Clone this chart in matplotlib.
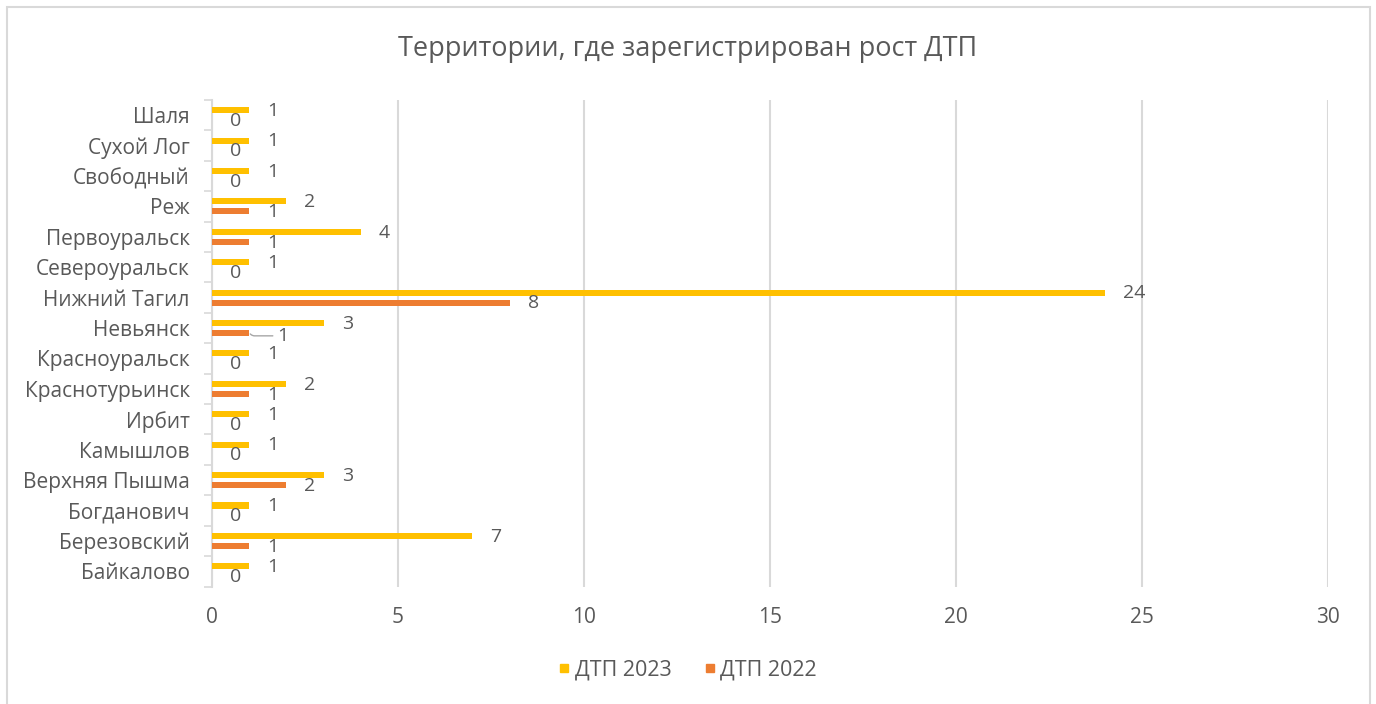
import matplotlib
matplotlib.use('Agg')
import matplotlib.pyplot as plt
from matplotlib.lines import Line2D
from matplotlib.patches import Rectangle
import numpy as np

categories = ['Байкалово', 'Березовский', 'Богданович', 'Верхняя Пышма', 'Камышлов',
              'Ирбит', 'Краснотурьинск', 'Красноуральск', 'Невьянск', 'Нижний Тагил',
              'Североуральск', 'Первоуральск', 'Реж', 'Свободный', 'Сухой Лог', 'Шаля']
dtp_2023 = [1, 7, 1, 3, 1, 1, 2, 1, 3, 24, 1, 4, 2, 1, 1, 1]
dtp_2022 = [0, 1, 0, 2, 0, 0, 1, 0, 1, 8, 0, 1, 1, 0, 0, 0]
xticks = [0, 5, 10, 15, 20, 25, 30]
title = 'Территории, где зарегистрирован рост ДТП'
series_names = ['ДТП 2023', 'ДТП 2022']

C23 = '#FFC000'
C22 = '#ED7D31'
TXT = '#595959'
GRID = '#D9D9D9'
FS = 15
FS_LAB = 14

plt.rcParams['font.family'] = ['Open Sans', 'DejaVu Sans']

W, H = 1376, 704
fig = plt.figure(figsize=(W / 100, H / 100), dpi=100)
fig.patch.set_facecolor('white')
fig.patches.append(Rectangle((7 / W, -0.05), (1370 - 7) / W, 1 + 0.05 - 7 / H,
                             transform=fig.transFigure, fill=False,
                             edgecolor=GRID, lw=1.5))

ax = fig.add_axes([212 / W, (H - 586.5) / H, (1328 - 212) / W, (586.5 - 100) / H])
y = np.arange(len(categories))
bh = 0.2
off = 0.165
ax.barh(y + off, dtp_2023, height=bh, color=C23, zorder=3)
ax.barh(y - off, dtp_2022, height=bh, color=C22, zorder=3)

ax.set_xlim(xticks[0], xticks[-1])
ax.set_ylim(-0.5, len(categories) - 0.5)
ax.set_xticks(xticks)
ax.set_xticklabels([str(t) for t in xticks])
ax.set_yticks(y)
ax.set_yticklabels(categories)
ax.set_yticks(np.arange(len(categories) + 1) - 0.5, minor=True)

ax.tick_params(axis='x', length=0, pad=15, labelsize=FS, labelcolor=TXT)
ax.tick_params(axis='y', which='major', length=0, pad=16, labelsize=FS, labelcolor=TXT)
ax.tick_params(axis='y', which='minor', length=5.8, width=1.2, color=GRID, direction='out')

ax.xaxis.grid(True, color=GRID, lw=1.5, zorder=0)
ax.set_axisbelow(True)
for s in ['top', 'right', 'bottom']:
    ax.spines[s].set_visible(False)
ax.spines['left'].set_color(GRID)
ax.spines['left'].set_linewidth(1.5)

lab_dx = 13  # points
for i, (a, b) in enumerate(zip(dtp_2023, dtp_2022)):
    ax.annotate(str(a), xy=(a, i + off), xytext=(lab_dx, -0.5), textcoords='offset points',
                ha='left', va='center', fontsize=FS_LAB, color=TXT, zorder=5)
    if categories[i] == 'Невьянск':
        ax.annotate(str(b), xy=(b, i - off), xytext=(lab_dx + 7, -2),
                    textcoords='offset points', ha='left', va='center',
                    fontsize=FS_LAB, color=TXT, zorder=5,
                    arrowprops=dict(arrowstyle='-', color='#A6A6A6', lw=1,
                                    shrinkA=1, shrinkB=1, relpos=(0, 0.5),
                                    connectionstyle='angle,angleA=0,angleB=-40,rad=2'))
    else:
        ax.annotate(str(b), xy=(b, i - off), xytext=(lab_dx, -0.5), textcoords='offset points',
                    ha='left', va='center', fontsize=FS_LAB, color=TXT, zorder=5)

fig.text(0.5, 1 - 49 / H, title, ha='center', va='center', fontsize=19.5, color=TXT)

handles = [Line2D([], [], marker='s', ls='none', color=C23, markersize=6),
           Line2D([], [], marker='s', ls='none', color=C22, markersize=6)]
fig.legend(handles, series_names, loc='center', bbox_to_anchor=(0.5, 1 - 670 / H),
           ncol=2, frameon=False, fontsize=15.5, labelcolor=TXT,
           handlelength=0.5, handletextpad=0.25, columnspacing=1.5)

fig.savefig('out.png', dpi=100)
